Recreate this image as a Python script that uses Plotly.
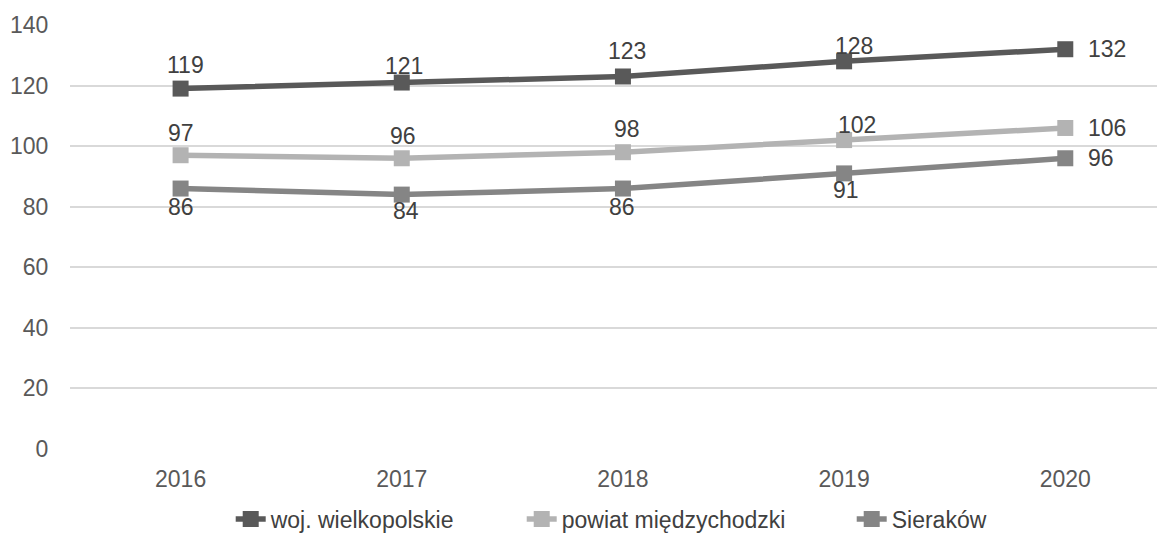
import plotly.graph_objects as go

years = ["2016", "2017", "2018", "2019", "2020"]
woj = [119, 121, 123, 128, 132]
powiat = [97, 96, 98, 102, 106]
sierakow = [86, 84, 86, 91, 96]

names = ["woj. wielkopolskie", "powiat międzychodzki", "Sieraków"]
series = [woj, powiat, sierakow]
colors = ["#595959", "#b3b3b3", "#858585"]
legend_widths = [246, 285, 100]

# label offsets in pixels (xshift, yshift, xanchor) – styling only
label_style = [
    [(5, 24, "center"), (2, 17, "center"), (4, 25, "center"), (10, 15, "center"), (21, 0, "left")],
    [(0, 22, "center"), (1, 22, "center"), (4, 23, "center"), (13, 15, "center"), (21, 0, "left")],
    [(0, -18, "center"), (4, -16, "center"), (-1, -18, "center"), (2, -17, "center"), (21, 0, "left")],
]

FONT = "Liberation Sans, Arial, sans-serif"
FS = 23

fig = go.Figure()
for name, vals, col, lw in zip(names, series, colors, legend_widths):
    fig.add_trace(go.Scatter(
        x=years, y=vals, name=name, mode="lines+markers",
        line=dict(color=col, width=5.5),
        marker=dict(symbol="square", size=16, color=col),
        cliponaxis=False, legendwidth=lw,
    ))

annotations = []
for vals, styles in zip(series, label_style):
    for i, (v, (xs, ys, xa)) in enumerate(zip(vals, styles)):
        annotations.append(dict(
            x=i, y=v, xref="x", yref="y", text=str(v), showarrow=False,
            xshift=xs, yshift=ys, xanchor=xa, yanchor="middle",
            font=dict(family=FONT, size=FS, color="#404040"),
        ))

fig.update_layout(
    width=1165, height=545,
    margin=dict(l=62, r=0, t=17, b=104),
    plot_bgcolor="white", paper_bgcolor="white",
    font=dict(family=FONT, size=FS, color="#595959"),
    showlegend=True,
    annotations=annotations,
    legend=dict(orientation="h", x=0.1457, xanchor="left", y=-0.165, yanchor="middle",
                entrywidthmode="pixels",
                font=dict(family=FONT, size=FS, color="#404040"), bgcolor="rgba(0,0,0,0)"),
    xaxis=dict(type="category", range=[-0.5, 4.487], showgrid=False, showline=False,
               zeroline=False, ticks="outside", ticklen=9, tickcolor="rgba(0,0,0,0)",
               tickfont=dict(family=FONT, size=FS, color="#595959"), automargin=False),
    yaxis=dict(range=[0, 140], dtick=20, showgrid=True, gridcolor="#d9d9d9", gridwidth=1.5,
               zeroline=False, showline=False, ticks="outside", ticklen=16,
               tickcolor="rgba(0,0,0,0)",
               tickfont=dict(family=FONT, size=FS, color="#595959"), automargin=False),
)
fig.write_html("out.html")
